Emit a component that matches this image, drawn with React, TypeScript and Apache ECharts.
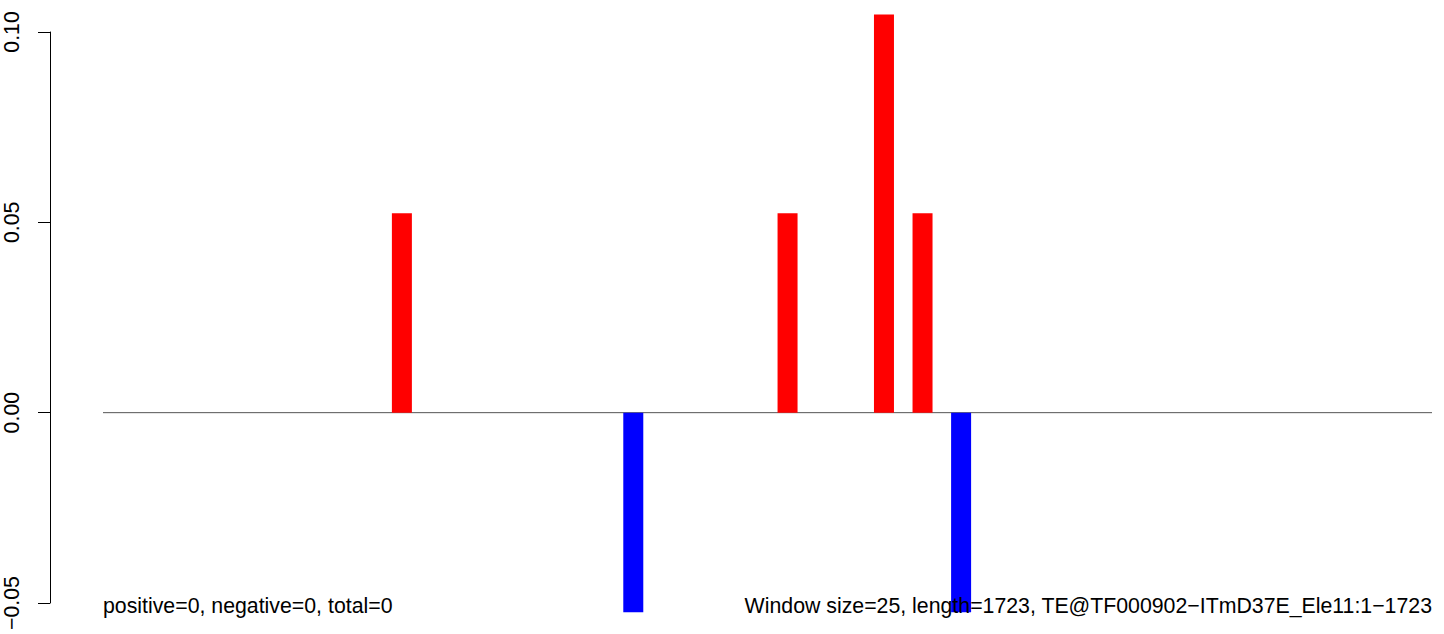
import React, { useEffect, useRef } from "react";
import * as echarts from "echarts";

// ---- data ----
const windowSize = 25;
const seqLength = 1723;
const windowIndex = [15, 27, 35, 40, 42, 44];
const scores = [0.0524, -0.0524, 0.0524, 0.1046, 0.0524, -0.0524];
const yTicks = [-0.05, 0, 0.05, 0.1];
const leftNote = "positive=0, negative=0, total=0";
const rightNote =
  "Window size=25, length=1723, TE@TF000902\u2212ITmD37E_Ele11:1\u22121723";

const FONT = '"Liberation Sans", Arial, Helvetica, sans-serif';
const FS = 21.3;

export default function App() {
  const ref = useRef<HTMLDivElement>(null);

  useEffect(() => {
    if (!ref.current) return;
    const chart = echarts.init(ref.current, undefined, { renderer: "svg" });

    const barData = windowIndex.map((w, i) => ({
      value: [w * windowSize + windowSize / 2, scores[i]],
      itemStyle: { color: scores[i] >= 0 ? "#FF0000" : "#0000FF" },
    }));

    // x scale: 0 bp at 103px, seqLength bp at 1432px; grid from 50px to 1444px
    const pxPerBp = (1432 - 103) / seqLength;
    const xMin = -(103 - 50) / pxPerBp;
    const xMax = xMin + (1444 - 50) / pxPerBp;

    chart.setOption({
      animation: false,
      backgroundColor: "#ffffff",
      grid: { left: 50, right: 0, top: 32, bottom: 31, containLabel: false },
      xAxis: {
        type: "value",
        min: xMin,
        max: xMax,
        show: false,
      },
      yAxis: {
        type: "value",
        min: yTicks[0],
        max: yTicks[yTicks.length - 1],
        interval: 0.05,
        position: "left",
        axisLine: { show: true, onZero: false, lineStyle: { color: "#000", width: 1 } },
        axisTick: { show: true, length: 12, lineStyle: { color: "#000", width: 1 } },
        splitLine: { show: false },
        axisLabel: {
          rotate: 90,
          margin: 28,
          color: "#000",
          fontSize: FS,
          fontFamily: FONT,
          formatter: (v: number) => v.toFixed(2).replace("-", "\u2212"),
        },
      },
      series: [
        {
          type: "line",
          data: [
            [0, 0],
            [seqLength, 0],
          ],
          symbol: "none",
          lineStyle: { color: "#555555", width: 1 },
          z: 1,
          silent: true,
        },
        {
          type: "bar",
          data: barData,
          barWidth: 20,
          clip: false,
          z: 2,
        },
      ],
      graphic: [
        {
          type: "text",
          x: 103,
          y: 605.5,
          z: 100,
          style: {
            text: leftNote,
            fill: "#000",
            fontSize: FS,
            fontFamily: FONT,
            textAlign: "left",
            textVerticalAlign: "middle",
            verticalAlign: "middle",
          },
        },
        {
          type: "text",
          x: 1432,
          y: 605.5,
          z: 100,
          style: {
            text: rightNote,
            fill: "#000",
            fontSize: FS,
            fontFamily: FONT,
            textAlign: "right",
            textVerticalAlign: "middle",
            verticalAlign: "middle",
          },
        },
      ],
    });

    return () => chart.dispose();
  }, []);

  return (
    <div
      ref={ref}
      style={{ position: "fixed", left: 0, top: 0, width: 1444, height: 634 }}
    />
  );
}
